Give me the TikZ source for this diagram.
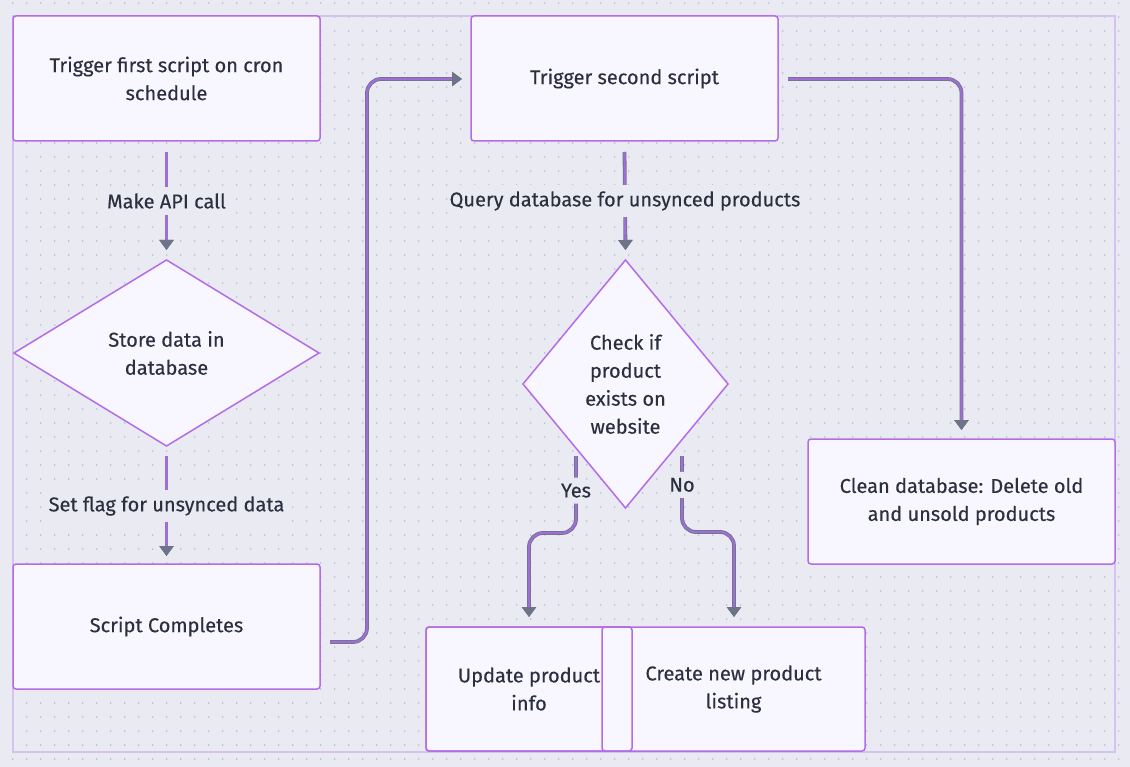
\documentclass[tikz,border=0pt]{standalone}
\usepackage{fontspec}
\setmainfont{Fira Sans}[FakeBold=0.25]
\usetikzlibrary{shapes.geometric,arrows.meta,calc}
\definecolor{bgc}{HTML}{EAEAF3}
\definecolor{dotc}{HTML}{B4BDD3}
\definecolor{framec}{HTML}{D6C2F0}
\definecolor{nodefill}{HTML}{F8F6FE}
\definecolor{nodeline}{HTML}{B36DE6}
\definecolor{connp}{HTML}{9E6DD6}
\definecolor{conng}{HTML}{6E7488}
\definecolor{txt}{HTML}{2B2F3E}
\tikzset{
  box/.style={draw=nodeline, fill=nodefill, line width=1.5pt, rounded corners=3pt,
    align=center, text=txt, inner sep=0pt, outer sep=0pt},
  dia/.style={diamond, draw=nodeline, fill=nodefill, line width=1.5pt,
    align=center, text=txt, inner sep=0pt, outer sep=0pt},
  conn/.style={draw=connp, line width=2.2pt,
    preaction={draw=conng, line width=3.8pt},
    -{Triangle[length=10pt,width=14pt,color=conng]}},
  lbl/.style={fill=bgc, text=txt, inner xsep=2pt, inner ysep=6pt},
}
\begin{document}
\begin{tikzpicture}[x=1pt,y=-1pt,font=\fontsize{20}{28}\selectfont]
\useasboundingbox (0,0) rectangle (1130,767);
\fill[bgc] (0,0) rectangle (1130,767);
\foreach \i in {0,...,80}{\foreach \j in {0,...,54}{\fill[dotc] (12.7+\i*14,3+\j*14) circle (0.95);}}
\draw[framec, line width=1.2pt] (13,16) rectangle (1115,752);

\node[box, minimum width=307, minimum height=125] (A) at (166.5,78.5) {Trigger first script on cron\\schedule};
\node[dia, minimum width=305, minimum height=186, aspect=1.64] (B) at (166.5,353) {Store data in\\database};
\node[box, minimum width=307, minimum height=125] (C) at (166.5,626.5) {Script Completes};
\node[box, minimum width=307, minimum height=125] (D) at (624.5,78.5) {Trigger second script};
\node[dia, minimum width=205, minimum height=248, aspect=0.83] (E) at (625.5,384) {Check if\\product\\exists on\\website};
\node[box, minimum width=206, minimum height=124] (F) at (529,689) {Update product\\info};
\node[box, minimum width=263, minimum height=124] (G) at (733.5,689) {Create new product\\listing};
\draw[nodeline, line width=1.5pt, rounded corners=3pt] (F.south west) rectangle (F.north east);
\node[box, minimum width=307, minimum height=125] (H) at (961.5,501.5) {Clean database: Delete old\\and unsold products};

\draw[conn] ($(A.south)+(0,11)$) -- node[lbl]{Make API call} ($(B.north)+(0,-10)$);
\draw[conn] ($(B.south)+(0,10)$) -- node[lbl]{Set flag for unsynced data} ($(C.north)+(0,-8)$);
\draw[conn, rounded corners=14pt] ($(C.east)+(10,15.5)$) -- ++(37,0) |- ($(D.west)+(-9,0.5)$);
\draw[conn] ($(D.south)+(0,11)$) -- node[lbl]{Query database for unsynced products} ($(E.north)+(0,-10)$);
\draw[conn, rounded corners=14pt] ($(D.east)+(10,0.5)$) -| ($(H.north)+(0,-9)$);
\draw[conn, rounded corners=14pt] ($(E.center)+(-49.5,72)$) -- node[lbl, pos=0.45]{Yes} ++(0,77) -| ($(F.north)+(0,-10)$);
\draw[conn, rounded corners=14pt] ($(E.center)+(56.5,72)$) -- node[lbl, pos=0.38]{No} ++(0,76) -| ($(G.north)+(0.5,-10)$);
\end{tikzpicture}
\end{document}
